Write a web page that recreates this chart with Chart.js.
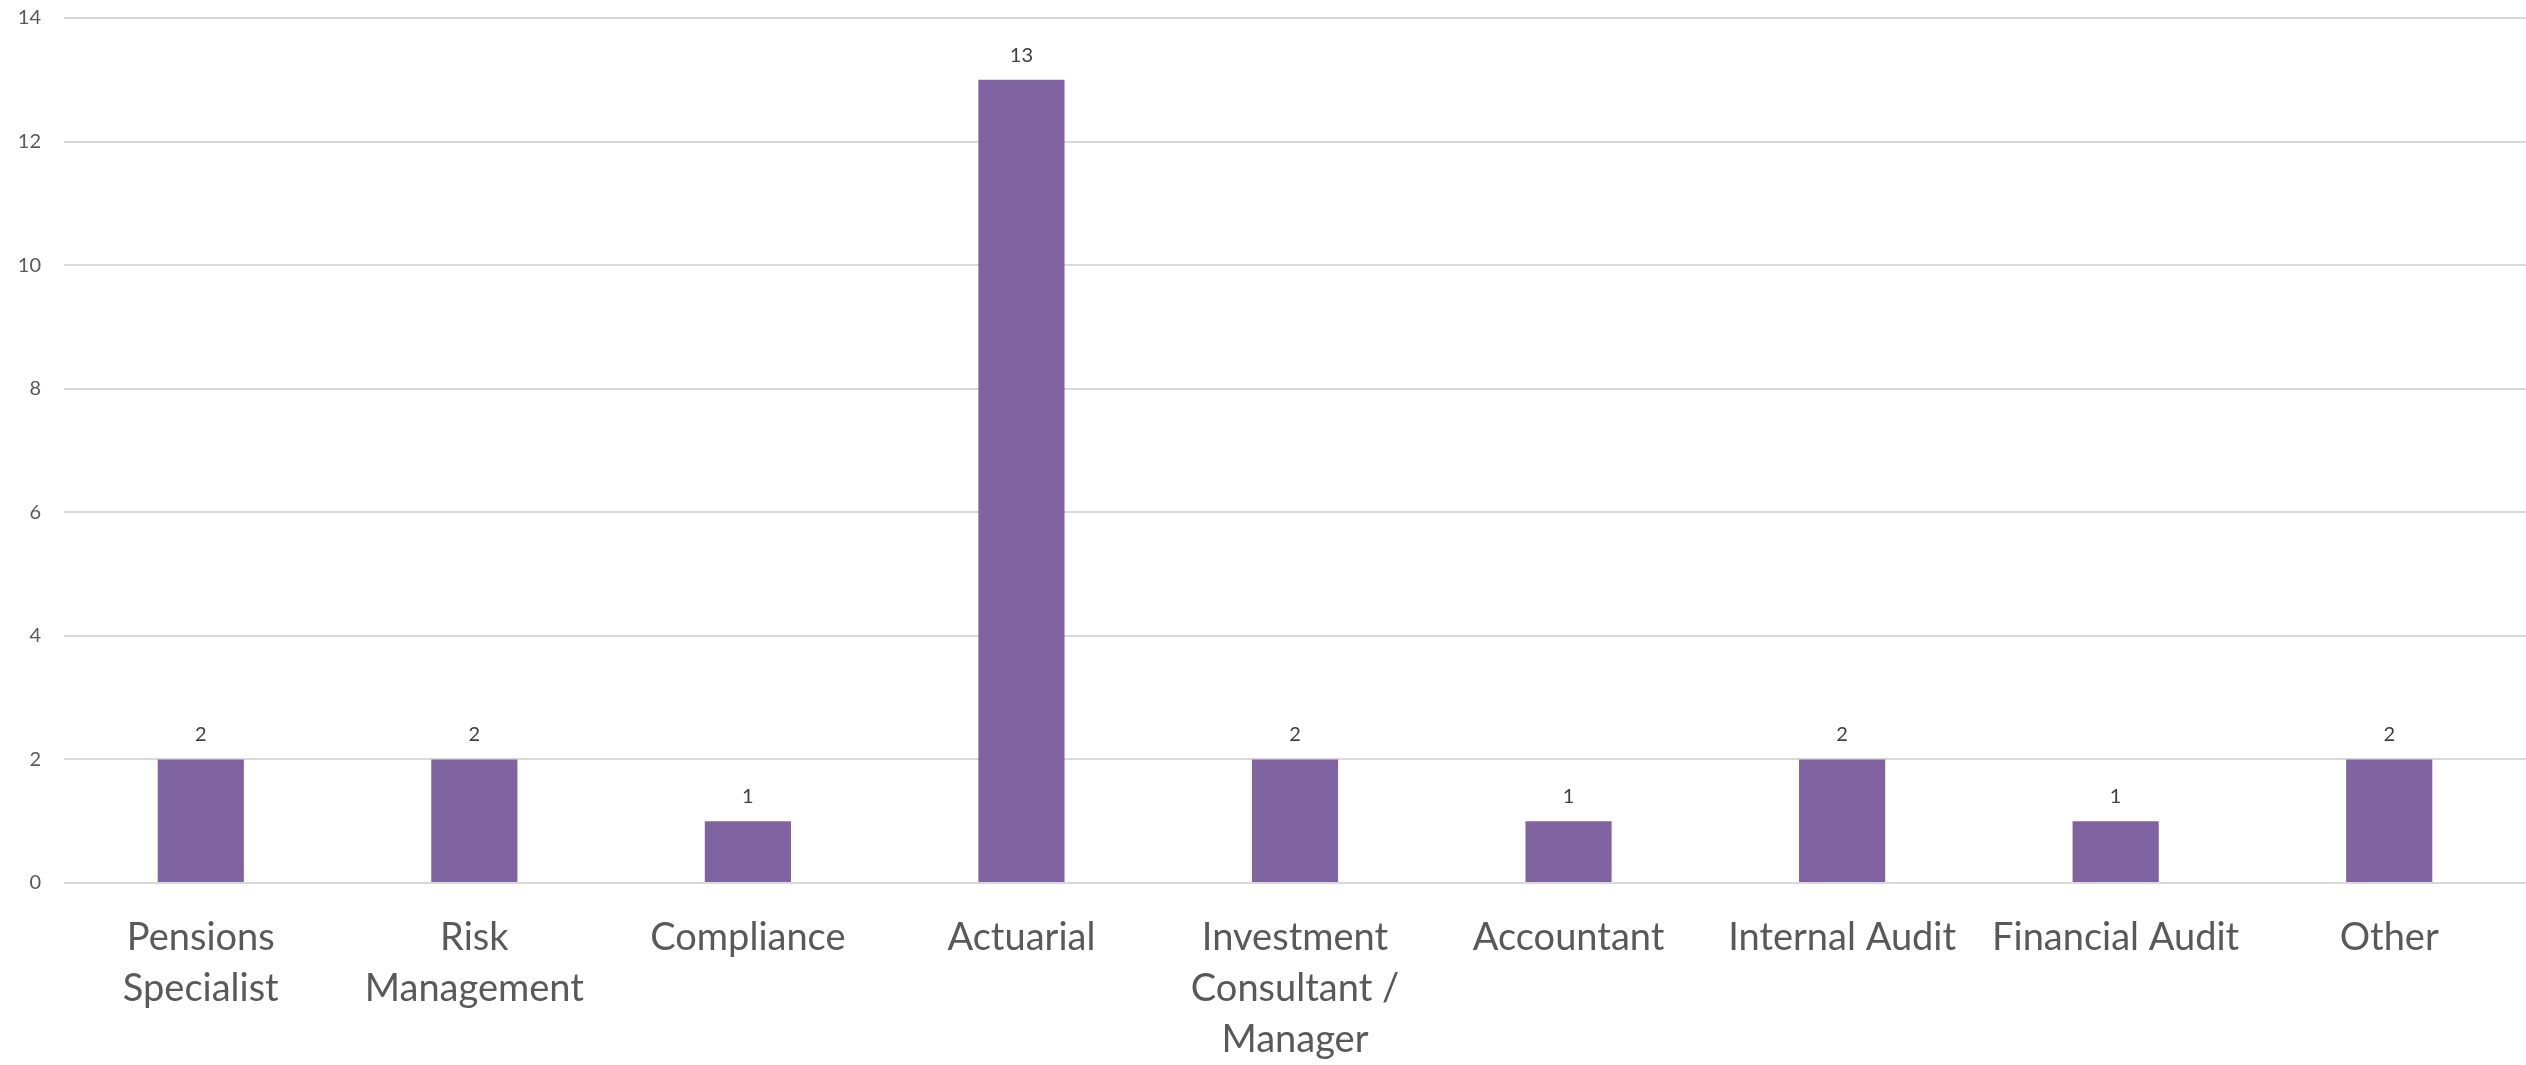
<!DOCTYPE html>
<html>
<head>
<meta charset="utf-8">
<title>Roles</title>
<script src="https://cdn.jsdelivr.net/npm/chart.js@4/dist/chart.umd.min.js"></script>
<style>
    html, body { margin: 0; padding: 0; background: #fff; }
    .chart-wrap { width: 2526px; height: 1065px; position: relative; }
</style>
</head>
<body>
<div class="chart-wrap">
    <canvas id="chart1"></canvas>
</div>
<script>
var categories = [
    ['Pensions', 'Specialist'],
    ['Risk', 'Management'],
    'Compliance',
    'Actuarial',
    ['Investment', 'Consultant /', 'Manager'],
    'Accountant',
    'Internal Audit',
    'Financial Audit',
    'Other'
];
var counts = [2, 2, 1, 13, 2, 1, 2, 1, 2];
var yTickMax = 14;
var yTickStep = 2;

// prints each bar's count just above it
var barValueLabels = {
    id: 'barValueLabels',
    afterDatasetsDraw: function (chart) {
        var ctx = chart.ctx;
        var meta = chart.getDatasetMeta(0);
        ctx.save();
        ctx.font = '20px Lato';
        ctx.fillStyle = '#404040';
        ctx.textAlign = 'center';
        ctx.textBaseline = 'alphabetic';
        meta.data.forEach(function (bar, i) {
            ctx.fillText(counts[i], bar.x, bar.y - 18);
        });
        ctx.restore();
    }
};

var chart1 = new Chart(document.getElementById('chart1'), {
    type: 'bar',
    data: {
        labels: categories,
        datasets: [
            {
                label: 'Count',
                data: counts,
                backgroundColor: '#8064A2',
                borderWidth: 0,
                categoryPercentage: 1,
                barPercentage: 0.315
            }
        ]
    },
    plugins: [barValueLabels],
    options: {
        responsive: true,
        maintainAspectRatio: false,
        devicePixelRatio: 1,
        animation: false,
        layout: {
            padding: { top: 18, right: 0, left: 0, bottom: 0 }
        },
        plugins: {
            legend: { display: false },
            tooltip: { enabled: false }
        },
        scales: {
            x: {
                grid: { display: false, drawTicks: false },
                border: { display: false },
                ticks: {
                    color: '#595959',
                    font: { family: 'Lato', size: 38, lineHeight: 1.34 },
                    padding: 29,
                    maxRotation: 0,
                    autoSkip: false
                },
                afterFit: function (scale) {
                    scale.height = 182;
                }
            },
            y: {
                min: 0,
                max: yTickMax,
                grid: { color: '#d9d9d9', lineWidth: 2, drawTicks: false },
                border: { display: false },
                ticks: {
                    stepSize: yTickStep,
                    color: '#595959',
                    font: { family: 'Lato', size: 20 },
                    padding: 23
                },
                afterFit: function (scale) {
                    // tick padding would otherwise push the plot down
                    scale.width = 64;
                    scale.paddingTop = 0;
                    scale.paddingBottom = 0;
                }
            }
        }
    }
});
</script>
</body>
</html>
